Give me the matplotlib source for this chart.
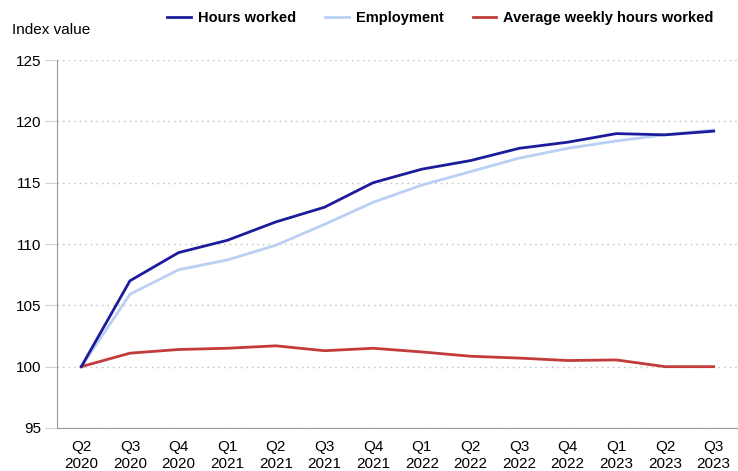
import numpy as np
import matplotlib.pyplot as plt

plt.rcParams['font.family'] = ['Liberation Sans', 'DejaVu Sans']

quarters = ['Q2\n2020', 'Q3\n2020', 'Q4\n2020', 'Q1\n2021', 'Q2\n2021', 'Q3\n2021', 'Q4\n2021',
            'Q1\n2022', 'Q2\n2022', 'Q3\n2022', 'Q4\n2022', 'Q1\n2023', 'Q2\n2023', 'Q3\n2023']
hours_worked = [100.0, 107.0, 109.3, 110.3, 111.8, 113.0, 115.0,
                116.1, 116.8, 117.8, 118.3, 119.0, 118.9, 119.2]
employment = [100.0, 105.9, 107.9, 108.7, 109.9, 111.6, 113.4,
              114.8, 115.9, 117.0, 117.8, 118.4, 118.9, 119.3]
avg_weekly_hours = [100.0, 101.1, 101.4, 101.5, 101.7, 101.3, 101.5,
                    101.2, 100.85, 100.7, 100.5, 100.55, 100.0, 100.0]

x = np.arange(len(quarters))

fig = plt.figure(figsize=(7.38, 4.71), dpi=100)
ax = fig.add_axes([0.0772, 0.0913, 0.9228, 0.7813])

ax.plot(x, employment, color='#b9d0f4', lw=2, label='Employment', zorder=3)
ax.plot(x, hours_worked, color='#1c1c9a', lw=2, label='Hours worked', zorder=4)
ax.plot(x, avg_weekly_hours, color='#c33b3b', lw=2, label='Average weekly hours worked', zorder=3)

ax.set_xlim(-0.5, len(quarters) - 0.5)
ax.set_ylim(95, 125)
ax.set_yticks(np.arange(95, 126, 5))
ax.set_xticks(x)
ax.set_xticklabels(quarters, linespacing=1.25)
ax.tick_params(axis='x', length=0, labelsize=11, pad=9)
ax.tick_params(axis='y', length=8.5, color='#c8d3e0', labelsize=11, pad=3)

ax.grid(axis='y', linestyle=(0, (1, 3)), color='#bbbbbb', lw=1)
ax.set_axisbelow(True)
for s in ['top', 'right']:
    ax.spines[s].set_visible(False)
ax.spines['left'].set_color('#999999')
ax.spines['bottom'].set_color('#999999')

fig.text(0.016, 0.936, 'Index value', fontsize=11, va='center', ha='left')

handles, labels = ax.get_legend_handles_labels()
order = [1, 0, 2]
fig.legend([handles[i] for i in order], [labels[i] for i in order],
           loc='upper center', bbox_to_anchor=(0.597, 1.005), ncol=3, frameon=False,
           prop={'weight': 'bold', 'size': 10.5}, handlelength=1.6, columnspacing=2.0,
           handletextpad=0.5)

fig.savefig('out.png', dpi=100)
